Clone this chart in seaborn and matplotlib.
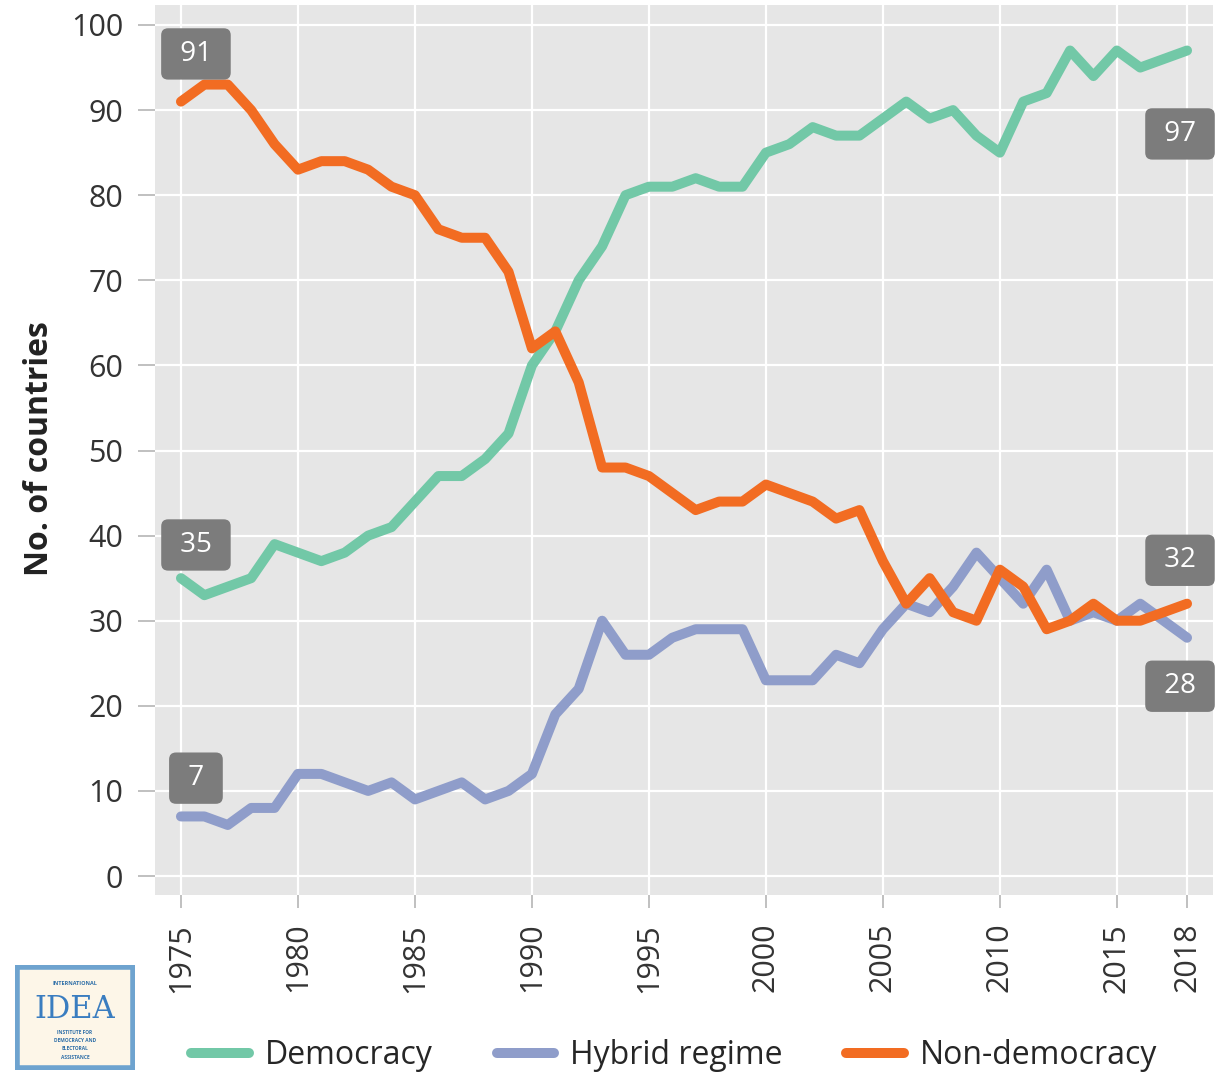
import numpy as np
import pandas as pd
import seaborn as sns
import matplotlib.pyplot as plt
from matplotlib.patches import Rectangle


years = list(range(1975, 2019))

democracy = [35, 33, 34, 35, 39, 38, 37, 38, 40, 41,
             44, 47, 47, 49, 52, 60, 64, 70, 74, 80,
             81, 81, 82, 81, 81, 85, 86, 88, 87, 87,
             89, 91, 89, 90, 87, 85, 91, 92, 97, 94,
             97, 95, 96, 97]

hybrid = [7, 7, 6, 8, 8, 12, 12, 11, 10, 11,
          9, 10, 11, 9, 10, 12, 19, 22, 30, 26,
          26, 28, 29, 29, 29, 23, 23, 23, 26, 25,
          29, 32, 31, 34, 38, 35, 32, 36, 30, 31,
          30, 32, 30, 28]

non_democracy = [91, 93, 93, 90, 86, 83, 84, 84, 83, 81,
                 80, 76, 75, 75, 71, 62, 64, 58, 48, 48,
                 47, 45, 43, 44, 44, 46, 45, 44, 42, 43,
                 37, 32, 35, 31, 30, 36, 34, 29, 30, 32,
                 30, 30, 31, 32]

series_names = ['Democracy', 'Hybrid regime', 'Non-democracy']
colors = ['#72c8a7', '#8f9dca', '#f26c22']
xticks = [1975, 1980, 1985, 1990, 1995, 2000, 2005, 2010, 2015, 2018]
yticks = list(range(0, 101, 10))

df = pd.DataFrame({
    'year': years * 3,
    'count': democracy + hybrid + non_democracy,
    'regime': sum([[n] * len(years) for n in series_names], []),
})

sns.set_theme(style='darkgrid')
plt.rcParams['font.family'] = ['Open Sans', 'DejaVu Sans']

fig = plt.figure(figsize=(12.15, 10.74), dpi=100)
ax = fig.add_axes([155 / 1215, 1 - 895 / 1074, 1058 / 1215, 890 / 1074])
ax.set_facecolor('#e6e6e6')

sns.lineplot(data=df, x='year', y='count', hue='regime',
             palette=dict(zip(series_names, colors)), linewidth=7.2,
             ax=ax, legend=True)
for line in ax.lines:
    line.set_solid_joinstyle('round')
    line.set_solid_capstyle('round')

ax.set_xlim(1973.89, 2019.11)
ax.set_ylim(-2.23, 102.35)
ax.set_xticks(xticks)
ax.set_yticks(yticks)
ax.set_xticklabels([str(x) for x in xticks], rotation=90, fontsize=22, color='#333333')
ax.set_yticklabels([str(y) for y in yticks], fontsize=22, color='#333333')
ax.grid(True, color='white', linewidth=1.6)
for s in ax.spines.values():
    s.set_visible(False)
ax.tick_params(axis='y', which='both', left=True, length=12, width=1.3,
               color='#bbbbbb', pad=11)
ax.tick_params(axis='x', which='both', bottom=True, length=9, width=1.3,
               color='#bbbbbb', pad=11)

ax.set_xlabel('')
ax.set_ylabel('No. of countries', fontsize=23, fontweight='bold', color='#222222')
ax.yaxis.set_label_coords(-0.094, 0.502)

# value tags at the ends
tag_style = dict(boxstyle='round,pad=0.42,rounding_size=0.25', fc='#7c7c7c', ec='none')
first_vals = [non_democracy[0], democracy[0], hybrid[0]]
first_offsets = [5.6, 3.9, 4.5]
for v, off in zip(first_vals, first_offsets):
    ax.text(years[0] + 0.64, v + off, f' {v} ', ha='center', va='center',
            fontsize=20, color='white', bbox=tag_style)
last_vals = [democracy[-1], non_democracy[-1], hybrid[-1]]
last_offsets = [-9.8, 5.1, -5.7]
for v, off in zip(last_vals, last_offsets):
    ax.text(years[-1] - 0.3, v + off, f' {v} ', ha='center', va='center',
            fontsize=20, color='white', bbox=tag_style)

handles, labels = ax.get_legend_handles_labels()
ax.legend_.remove()
fig.legend(handles, labels, loc='center', bbox_to_anchor=(0.555, 1 - 1056 / 1074),
           ncol=3, frameon=False, fontsize=23, handlelength=1.8,
           columnspacing=2.0, handletextpad=0.5)

# logo
lax = fig.add_axes([15 / 1215, 1 - 1070 / 1074, 120 / 1215, 105 / 1074])
lax.set_xlim(0, 1)
lax.set_ylim(0, 1)
lax.axis('off')
lax.add_patch(Rectangle((0.02, 0.02), 0.96, 0.96, fc='#fdf6e8', ec='#6ea3cf', lw=4))
lax.text(0.5, 0.82, 'INTERNATIONAL', ha='center', va='center', fontsize=4,
         color='#2f6fa8', fontweight='bold')
lax.text(0.5, 0.58, 'IDEA', ha='center', va='center', fontsize=22,
         color='#3a7dc0', family='DejaVu Serif')
for i, t in enumerate(['INSTITUTE FOR', 'DEMOCRACY AND', 'ELECTORAL', 'ASSISTANCE']):
    lax.text(0.5, 0.36 - i * 0.08, t, ha='center', va='center', fontsize=3.5,
             color='#2f6fa8', fontweight='bold')

fig.savefig('out.png', dpi=100)
